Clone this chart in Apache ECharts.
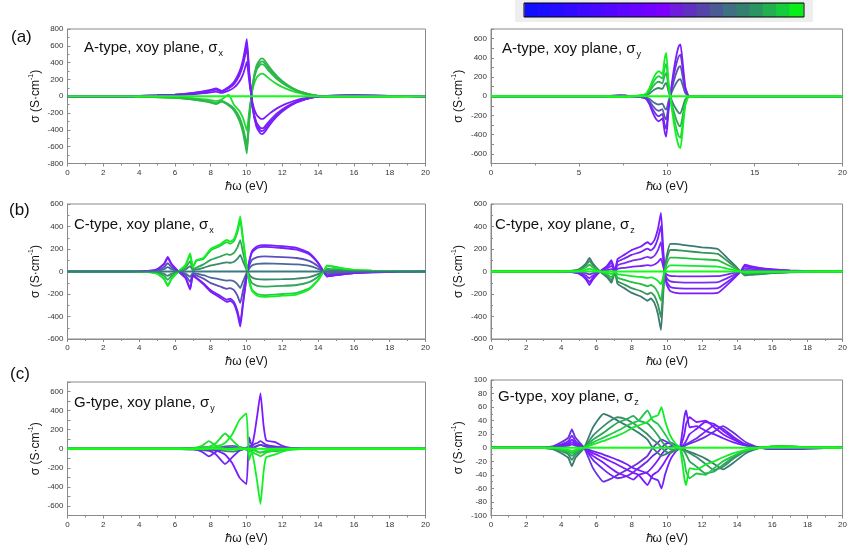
<!DOCTYPE html>
<html><head><meta charset="utf-8">
<script src="https://cdn.jsdelivr.net/npm/echarts@6/dist/echarts.min.js"></script>
<style>html,body{margin:0;padding:0;background:#fff}#c{width:850px;height:556px}</style>
</head><body><div id="c"></div>
<script>
// ---------- common ----------
const flatX = [0, 20];
const flatY = [0, 0];
const colorbarColors = ['#1010ff','#1a0eff','#250cff','#300bff','#3b0aff','#4608ff','#5107ff','#5c05ff','#6704ff','#7202ff','#7d00ff','#6f1cdf','#6030c0','#5545a8','#4a5a95','#3f6f82','#357f70','#2a9560','#20b050','#15cc3a','#08ee18'];
const colorbarVals = [1,1,1,1,1,1,1,1,1,1,1,1,1,1,1,1,1,1,1,1,1];
const colorbarCats = ['0','1','2','3','4','5','6','7','8','9','10','11','12','13','14','15','16','17','18','19','20'];

// ---------- (a) left: A-type sigma_x ----------
const aL_x  = [0,3.5,4,5,6,6.5,7,7.5,8,8.3,8.6,9,9.3,9.6,9.8,9.95,10.02,10.15,10.35,10.55,10.75,10.87,11.0,11.3,11.7,12.2,12.8,13.5,14,14.5,16,18,20];
const aL_P1 = [0,0,5,12,20,28,40,55,75,92,65,110,170,290,430,600,680,300,-150,-360,-435,-450,-430,-340,-240,-150,-75,-25,-5,5,12,5,0];
const aL_P2 = [0,0,5,11,18,26,37,51,69,85,60,101,156,267,396,552,626,276,-138,-331,-400,-414,-396,-313,-221,-138,-69,-23,-5,5,11,5,0];
const aL_P3 = [0,0,4,10,17,24,34,47,64,78,55,94,145,247,366,510,578,255,-128,-306,-370,-383,-366,-289,-204,-128,-64,-21,-4,4,10,4,0];
const aL_P4 = [0,0,3,7,12,17,24,33,45,55,39,66,102,174,258,360,408,180,-90,-216,-261,-270,-258,-204,-144,-90,-45,-15,-3,3,7,3,0];
const aL_G1 = [0,0,-5,-12,-20,-28,-40,-55,-75,-92,-65,-110,-170,-290,-430,-600,-680,-300,150,360,435,450,430,340,240,150,75,25,5,-5,-5,-3,0];
const aL_G2 = [0,0,-5,-11,-18,-26,-37,-51,-69,-85,-60,-101,-156,-267,-396,-552,-626,-276,138,331,400,414,396,313,221,138,69,23,5,-5,-5,-3,0];
const aL_G3 = [0,0,-4,-10,-17,-24,-34,-47,-64,-78,-55,-94,-145,-247,-366,-510,-578,-255,128,306,370,383,366,289,204,128,64,21,4,-4,-4,-2,0];
const aL_G4 = [0,0,-3,-7,-12,-17,-24,-33,-45,-55,-39,20,-102,-174,-258,-360,-408,-180,90,216,261,270,258,204,144,90,45,15,3,-3,-3,-2,0];

// ---------- (a) right: A-type sigma_y ----------
const aR_x  = [0,4,6.5,7.3,7.6,8,8.5,8.8,9.0,9.2,9.4,9.55,9.75,9.88,9.97,10.1,10.3,10.5,10.68,10.78,10.9,11.05,11.25,12,13.7,16,20];
const aR_P1 = [0,0,0,10,8,0,-10,-25,-80,-170,-240,-260,-230,-370,-420,-150,150,380,520,540,360,100,5,0,0,0,0];
const aR_P2 = [0,0,0,8,6,0,-8,-20,-64,-136,-192,-208,-184,-296,-336,-120,120,304,416,432,288,80,4,0,0,0,0];
const aR_B1 = [0,0,0,6,5,0,-6,-15,-46,-99,-139,-151,-133,-215,-244,-87,87,220,302,313,209,58,3,0,0,0,0];
const aR_T1 = [0,0,0,3,3,0,-3,-8,-26,-56,-79,-86,-76,-122,-139,-50,50,125,172,178,119,33,2,0,0,0,0];
const aR_T2 = [0,0,0,-3,-3,0,3,8,26,56,79,86,76,122,139,50,-50,-125,-172,-178,-119,-33,-2,0,0,0,0];
const aR_G2 = [0,0,0,-6,-5,0,6,15,46,99,139,151,133,215,244,87,-87,-220,-302,-313,-209,-58,-3,0,0,0,0];
const aR_G3 = [0,0,0,-8,-6,0,8,20,64,136,192,208,184,296,336,120,-120,-304,-416,-432,-288,-80,-4,0,0,0,0];
const aR_G1 = [0,0,0,-10,-8,0,10,25,80,170,240,260,230,390,450,150,-150,-380,-520,-540,-360,-100,-5,0,0,0,0];

// ---------- (b) left: C-type sigma_x ----------
const bL_x  = [0,2.3,3.5,4.5,5.0,5.4,5.6,5.8,6.2,6.6,6.85,7.0,7.2,7.6,8.0,8.5,8.9,9.1,9.3,9.5,9.65,9.8,10.05,10.3,10.6,11.0,12.0,12.8,13.5,14.0,14.3,14.5,14.7,15.2,16,17,18.5,20];
const bL_P1 = [0,0,0,5,20,70,130,70,0,-60,-160,-40,-60,-115,-180,-230,-270,-260,-290,-380,-490,-300,0,180,225,235,225,210,165,80,0,-45,-40,-30,-15,-8,-2,0];
const bL_P2 = [0,0,0,5,19,65,121,65,0,-56,-149,-37,-56,-107,-167,-214,-251,-242,-270,-353,-456,-279,0,167,209,219,209,195,153,74,0,-42,-37,-28,-14,-7,-2,0];
const bL_B1 = [0,0,0,3,11,40,74,40,0,-34,-91,-23,-34,-63,-103,-131,-154,-148,-165,-217,-279,-171,0,103,128,134,128,120,94,46,0,-26,-23,-17,-9,-5,-1,0];
const bL_S1 = [0,0,0,2,6,21,39,21,0,-18,-48,-12,-18,-33,-54,-69,-81,-78,-87,-114,-147,-90,0,54,68,71,68,63,50,24,0,-14,-12,-9,-5,-2,-1,0];
const bL_S2 = [0,0,0,-2,-6,-21,-39,-21,0,18,48,12,18,33,54,69,81,78,87,114,147,90,0,-54,-68,-71,-68,-63,-50,-24,0,14,12,9,5,2,1,0];
const bL_G3 = [0,0,0,-3,-11,-40,-74,-40,0,34,91,23,34,63,103,131,154,148,165,217,279,171,0,-103,-128,-134,-128,-120,-94,-46,0,26,23,17,9,5,1,0];
const bL_G2 = [0,0,0,-5,-19,-65,-121,-65,0,56,149,37,95,112,187,224,261,247,270,353,456,279,0,-160,-200,-210,-200,-190,-150,-74,0,50,45,30,14,7,2,0];
const bL_G1 = [0,0,0,-5,-20,-70,-130,-70,0,60,160,40,100,120,200,240,280,265,290,380,490,300,0,-170,-215,-225,-215,-205,-160,-80,0,55,50,35,15,8,2,0];

// ---------- (b) right: C-type sigma_z ----------
const bR_x  = [0,2.3,3.5,4.5,5.0,5.4,5.6,5.8,6.2,6.6,6.85,7.05,7.2,7.6,8.0,8.5,8.9,9.1,9.3,9.5,9.67,9.78,9.88,10.0,10.2,10.5,11.0,12.0,12.9,13.5,13.9,14.2,14.45,14.7,15.2,16,17,18.5,20];
const bR_P1 = [0,0,0,-5,-20,-70,-120,-70,0,50,100,5,110,150,190,220,260,240,280,380,520,250,0,-120,-175,-190,-195,-195,-190,-110,-50,0,60,50,35,20,10,3,0];
const bR_P2 = [0,0,0,-4,-16,-55,-94,-55,0,39,78,4,86,117,148,172,203,187,218,296,406,195,0,-94,-137,-148,-152,-152,-148,-86,-39,0,47,39,27,16,8,2,0];
const bR_P3 = [0,0,0,-3,-10,-35,-60,-35,0,25,50,3,55,75,95,110,130,120,140,190,260,125,0,-60,-88,-95,-98,-98,-95,-55,-25,0,30,25,18,10,5,2,0];
const bR_P4 = [0,0,0,-1,-4,-15,-26,-15,0,11,22,1,24,33,42,48,57,53,62,84,114,55,0,-26,-39,-42,-43,-43,-42,-24,-11,0,13,11,8,4,2,1,0];
const bR_T1 = [0,0,0,5,20,70,120,70,0,-50,-100,-5,-110,-150,-190,-220,-260,-240,-280,-380,-520,-250,0,140,245,245,235,215,200,110,50,0,-35,-30,-25,-15,-8,-2,0];
const bR_T2 = [0,0,0,4,16,55,94,55,0,-39,-78,-4,-86,-117,-148,-172,-203,-187,-218,-296,-406,-195,0,109,191,191,183,168,156,86,39,0,-27,-23,-20,-12,-6,-2,0];
const bR_G1 = [0,0,0,3,10,35,60,35,0,-25,-50,-3,-55,-75,-95,-110,-130,-120,-140,-190,-260,-125,0,70,123,123,118,108,100,55,25,0,-18,-15,-12,-8,-4,-1,0];
const bR_G2 = [0,0,0,1,4,15,26,15,0,-11,-22,-1,-24,-33,-42,-48,-57,-53,-62,-84,-114,-55,0,31,54,54,52,47,44,24,11,0,-8,-7,-5,-3,-2,0,0];

// ---------- (c) left: G-type sigma_y ----------
const cL_x  = [0,3.2,6.0,7.0,7.5,7.9,8.3,8.8,9.2,9.6,9.8,10.0,10.15,10.3,10.45,10.6,10.78,10.95,11.1,11.6,12.0,12.5,13.5,17.5,20];
const cL_PA = [0,0,0,-5,-30,-80,-30,10,10,5,0,0,5,10,20,30,40,30,20,10,5,0,0,0,0];
const cL_PB = [0,0,0,0,-5,-20,-60,-160,-90,-20,0,10,20,30,50,60,80,60,40,20,10,5,0,0,0];
const cL_PC = [0,0,0,0,0,-5,-20,-60,-150,-300,-340,-370,120,30,160,350,580,250,90,70,30,10,0,0,0];
const cL_GA = [0,0,0,5,30,80,30,-10,-10,-5,0,0,-5,-10,-20,-30,-40,-30,-20,-10,-5,0,0,0,0];
const cL_GB = [0,0,0,0,5,20,60,160,90,20,0,-10,-20,-30,-50,-60,-80,-60,-40,-20,-10,-5,0,0,0];
const cL_GC = [0,0,0,0,0,5,20,60,150,300,340,370,-120,-30,-170,-350,-580,-250,-90,-60,-30,-10,0,0,0];
const cL_S1 = [0,0,0,10,15,20,10,25,30,20,10,-10,-30,-20,10,30,40,35,30,25,15,5,0,0,0];
const cL_S2 = [0,0,0,-10,-15,-20,-10,-25,-30,-20,-10,10,30,20,-10,-30,-40,-35,-30,-25,-15,-5,0,0,0];

// ---------- (c) right: G-type sigma_z ----------
const cR_x   = [0,1,2.5,3.5,4.0,4.4,4.6,4.8,5.3,5.8,6.4,6.8,7.2,7.7,8.1,8.4,8.9,9.2,9.5,9.7,9.9,10.2,10.5,10.75,11.0,11.1,11.3,11.7,12.2,12.7,13.2,13.8,14.5,15.3,16.5,18,20];
const cR_T1  = [0,0,0,-2,-8,-15,-27,-15,0,30,50,46,40,33,27,22,12,0,-8,-12,-10,-6,-3,0,-2,-4,-6,-10,-16,-24,-32,-22,-8,0,2,1,0];
const cR_PT1 = [0,0,0,2,8,15,27,15,0,-30,-50,-46,-40,-33,-27,-22,-12,0,8,12,10,6,3,0,2,4,6,10,16,24,32,22,8,0,-2,-1,0];
const cR_T2  = [0,0,0,-1,-5,-10,-18,-10,0,18,32,40,45,42,36,30,20,12,6,0,-5,-8,-4,0,-3,-5,-8,-14,-24,-33,-28,-16,-5,0,2,1,0];
const cR_PT2 = [0,0,0,1,5,10,18,10,0,-18,-32,-40,-45,-42,-36,-30,-20,-12,-6,0,5,8,4,0,3,5,8,14,24,33,28,16,5,0,-2,-1,0];
const cR_G3  = [0,0,0,-1,-4,-7,-12,-7,0,12,22,30,37,42,47,40,36,28,18,10,4,-2,-3,0,-6,-10,-20,-28,-38,-35,-25,-14,-4,0,2,1,0];
const cR_PG3 = [0,0,0,1,4,7,12,7,0,-12,-22,-30,-37,-42,-47,-40,-36,-28,-18,-10,-4,2,3,0,6,10,20,28,38,35,25,14,4,0,-2,-1,0];
const cR_G4  = [0,0,0,0,-3,-5,-8,-5,0,8,15,20,25,32,37,40,55,40,35,28,20,8,2,0,-20,-35,-45,-38,-40,-30,-20,-12,-4,0,2,1,0];
const cR_PG4 = [0,0,0,0,3,5,8,5,0,-8,-15,-20,-25,-32,-37,-40,-55,-40,-35,-28,-20,-8,-2,0,20,35,45,38,40,30,20,12,4,0,-2,-1,0];
const cR_G5  = [0,0,0,0,-2,-3,-5,-3,0,5,10,14,18,24,30,33,38,45,48,60,40,18,6,0,-45,-55,-30,-32,-25,-20,-14,-8,-3,0,2,1,0];
const cR_PG5 = [0,0,0,0,2,3,5,3,0,-5,-10,-14,-18,-24,-30,-33,-38,-45,-48,-60,-40,-18,-6,0,45,55,30,32,25,20,14,8,3,0,-2,-1,0];

// ---------- build ----------
const FONT = 'Liberation Sans, Arial, sans-serif';
const AX = '#8a8a8a';
const series = [];
function line(gi, xs, ys, color, w) {
  series.push({type:'line', xAxisIndex:gi, yAxisIndex:gi, data: xs.map((x,i)=>[x, ys[i]]),
    symbol:'none', showSymbol:false, smooth:0.15, silent:true, animation:false,
    lineStyle:{color:color, width:w||1.8}, itemStyle:{color:color}});
}
// (a) left
line(0,aL_x,aL_G4,'#22dc34'); line(0,aL_x,aL_G3,'#2cc044'); line(0,aL_x,aL_G2,'#33b24e'); line(0,aL_x,aL_G1,'#2fb84a');
line(0,aL_x,aL_P4,'#7c1cff'); line(0,aL_x,aL_P3,'#7628f0'); line(0,aL_x,aL_P2,'#7a20f8'); line(0,aL_x,aL_P1,'#7a1cff');
line(0,flatX,flatY,'#12ff12',2);
// (a) right
line(1,aR_x,aR_T1,'#4a6a9a'); line(1,aR_x,aR_T2,'#3a8a6a'); line(1,aR_x,aR_B1,'#5a55b0'); line(1,aR_x,aR_G2,'#30b050');
line(1,aR_x,aR_P2,'#6a3ad8'); line(1,aR_x,aR_G3,'#20d040'); line(1,aR_x,aR_P1,'#7a1cff'); line(1,aR_x,aR_G1,'#12f020');
line(1,flatX,flatY,'#12ff12',2);
// (b) left
line(2,bL_x,bL_S1,'#4a6a9a'); line(2,bL_x,bL_S2,'#3a8a6a'); line(2,bL_x,bL_B1,'#5a50b8'); line(2,bL_x,bL_G3,'#30a858');
line(2,bL_x,bL_P2,'#7424f5'); line(2,bL_x,bL_G2,'#20d040'); line(2,bL_x,bL_P1,'#7a1cff'); line(2,bL_x,bL_G1,'#12f020');
line(2,flatX,flatY,'#3a7a80',2);
// (b) right
line(3,bR_x,bR_P4,'#8020ff'); line(3,bR_x,bR_P3,'#7a2cf0'); line(3,bR_x,bR_P2,'#7424f8'); line(3,bR_x,bR_P1,'#7a1cff');
line(3,bR_x,bR_T1,'#3a7a70'); line(3,bR_x,bR_T2,'#35955a'); line(3,bR_x,bR_G1,'#25c040'); line(3,bR_x,bR_G2,'#15e830');
line(3,flatX,flatY,'#12ff12',2);
// (c) left
line(4,cL_x,cL_S1,'#4a6a9a'); line(4,cL_x,cL_S2,'#3a8a70');
line(4,cL_x,cL_PA,'#7028f0'); line(4,cL_x,cL_PB,'#7028f0'); line(4,cL_x,cL_PC,'#7a1cff');
line(4,cL_x,cL_GA,'#20e030'); line(4,cL_x,cL_GB,'#20e030'); line(4,cL_x,cL_GC,'#12f020');
line(4,flatX,flatY,'#12ff12',2);
// (c) right
line(5,cR_x,cR_PT1,'#6a30e0'); line(5,cR_x,cR_PT2,'#7028f0'); line(5,cR_x,cR_PG3,'#7a1cff'); line(5,cR_x,cR_PG4,'#8018ff'); line(5,cR_x,cR_PG5,'#7020ff');
line(5,cR_x,cR_T1,'#3a7a70'); line(5,cR_x,cR_T2,'#389068'); line(5,cR_x,cR_G3,'#2aa858'); line(5,cR_x,cR_G4,'#22c848'); line(5,cR_x,cR_G5,'#12ec24');
line(5,flatX,flatY,'#12ff12',2);
// colorbar (blocks slightly wider than their slot so no seams show)
series.push({type:'bar', xAxisIndex:6, yAxisIndex:6, barWidth:15, silent:true, animation:false,
  data: colorbarVals.map((v,i)=>({value:v, itemStyle:{color:colorbarColors[i], borderWidth:0}}))});

const grids = [
  {left:67.5, top:29, width:358, height:134.5},
  {left:491, top:29, width:357, height:134.5},
  {left:67.5, top:204, width:358, height:135},
  {left:491, top:204, width:357, height:135},
  {left:67.5, top:382, width:358, height:133.5},
  {left:491, top:380, width:357, height:135.5}
].map(g => Object.assign({show:true, borderColor:AX, borderWidth:1, backgroundColor:'transparent', containLabel:false}, g));
grids.push({left:524.5, top:3, width:279, height:14, show:false, containLabel:false});

function xAx(gi, interval) {
  return {type:'value', gridIndex:gi, min:0, max:20, interval:interval,
    axisLine:{show:true, onZero:false, lineStyle:{color:AX}},
    axisTick:{show:true, inside:false, length:3, lineStyle:{color:AX}},
    minorTick:{show:true, splitNumber:2, length:2, lineStyle:{color:AX}},
    axisLabel:{fontSize:8, color:'#333', margin:5, fontFamily:FONT},
    splitLine:{show:false}, minorSplitLine:{show:false},
    name:'ℏω (eV)', nameLocation:'middle', nameGap:17,
    nameTextStyle:{fontSize:12, color:'#111', fontFamily:FONT}};
}
function yAx(gi, min, max, interval, skip) {
  return {type:'value', gridIndex:gi, min:min, max:max, interval:interval,
    axisLine:{show:true, onZero:false, lineStyle:{color:AX}},
    axisTick:{show:true, inside:true, length:3, lineStyle:{color:AX}},
    minorTick:{show:!skip, splitNumber:2, length:2, lineStyle:{color:AX}},
    axisLabel:{fontSize:8, color:'#333', margin:4, fontFamily:FONT,
      formatter: skip ? (v => (v % 200 === 0 && Math.abs(v) < 700) ? String(v) : '') : (v => String(v))},
    splitLine:{show:false}, minorSplitLine:{show:false},
    name:'{n|σ (S·cm}{s|-1}{n|)}', nameLocation:'middle', nameGap:24, nameRotate:90,
    nameTextStyle:{fontFamily:FONT, color:'#111', rich:{
      n:{fontSize:12, color:'#111', fontFamily:FONT, lineHeight:16},
      s:{fontSize:7, color:'#111', fontFamily:FONT, lineHeight:16, verticalAlign:'top', padding:[0,0,7,0]}}}};
}
const xAxes = [xAx(0,2), xAx(1,5), xAx(2,2), xAx(3,2), xAx(4,2), xAx(5,2),
  {type:'category', gridIndex:6, data:colorbarCats, show:false, boundaryGap:true}];
const yAxes = [yAx(0,-800,800,200,false), yAx(1,-700,700,100,true), yAx(2,-600,600,200,false),
  yAx(3,-600,600,200,false), yAx(4,-700,700,100,true), yAx(5,-100,100,20,false),
  {type:'value', gridIndex:6, min:0, max:1, show:false}];

function panelTitle(text, sub, left, top) {
  return {text:'{t|' + text + '}{s|' + sub + '}', left:left, top:top, padding:0,
    textStyle:{fontFamily:FONT, fontWeight:'normal', rich:{
      t:{fontSize:15, color:'#111', fontFamily:FONT, lineHeight:20},
      s:{fontSize:9, color:'#111', fontFamily:FONT, lineHeight:20, verticalAlign:'bottom', padding:[8,0,0,1]}}}};
}
function tag(text, left, top) {
  return {text:text, left:left, top:top, padding:0, textStyle:{fontSize:17, fontWeight:'normal', color:'#111', fontFamily:FONT}};
}

const option = {
  backgroundColor:'#ffffff',
  animation:false,
  textStyle:{fontFamily:FONT},
  grid: grids, xAxis: xAxes, yAxis: yAxes, series: series,
  title: [
    tag('(a)', 11, 29), tag('(b)', 9, 202), tag('(c)', 10, 366),
    panelTitle('A-type, xoy plane, σ', 'x', 84, 38),
    panelTitle('A-type, xoy plane, σ', 'y', 502, 39),
    panelTitle('C-type, xoy plane, σ', 'x', 74, 215),
    panelTitle('C-type, xoy plane, σ', 'z', 495, 215),
    panelTitle('G-type, xoy plane, σ', 'y', 74, 393),
    panelTitle('G-type, xoy plane, σ', 'z', 498, 387)
  ],
  graphic: [
    {type:'rect', shape:{x:515, y:0, width:298, height:22}, style:{fill:'#eeeeee'}, z:-10, silent:true},
    {type:'rect', shape:{x:524, y:3, width:280, height:14}, style:{fill:'none', stroke:'#000', lineWidth:1}, z:100, silent:true}
  ]
};
const chart = echarts.init(document.getElementById('c'), null, {renderer:'canvas'});
chart.setOption(option);
</script></body></html>
